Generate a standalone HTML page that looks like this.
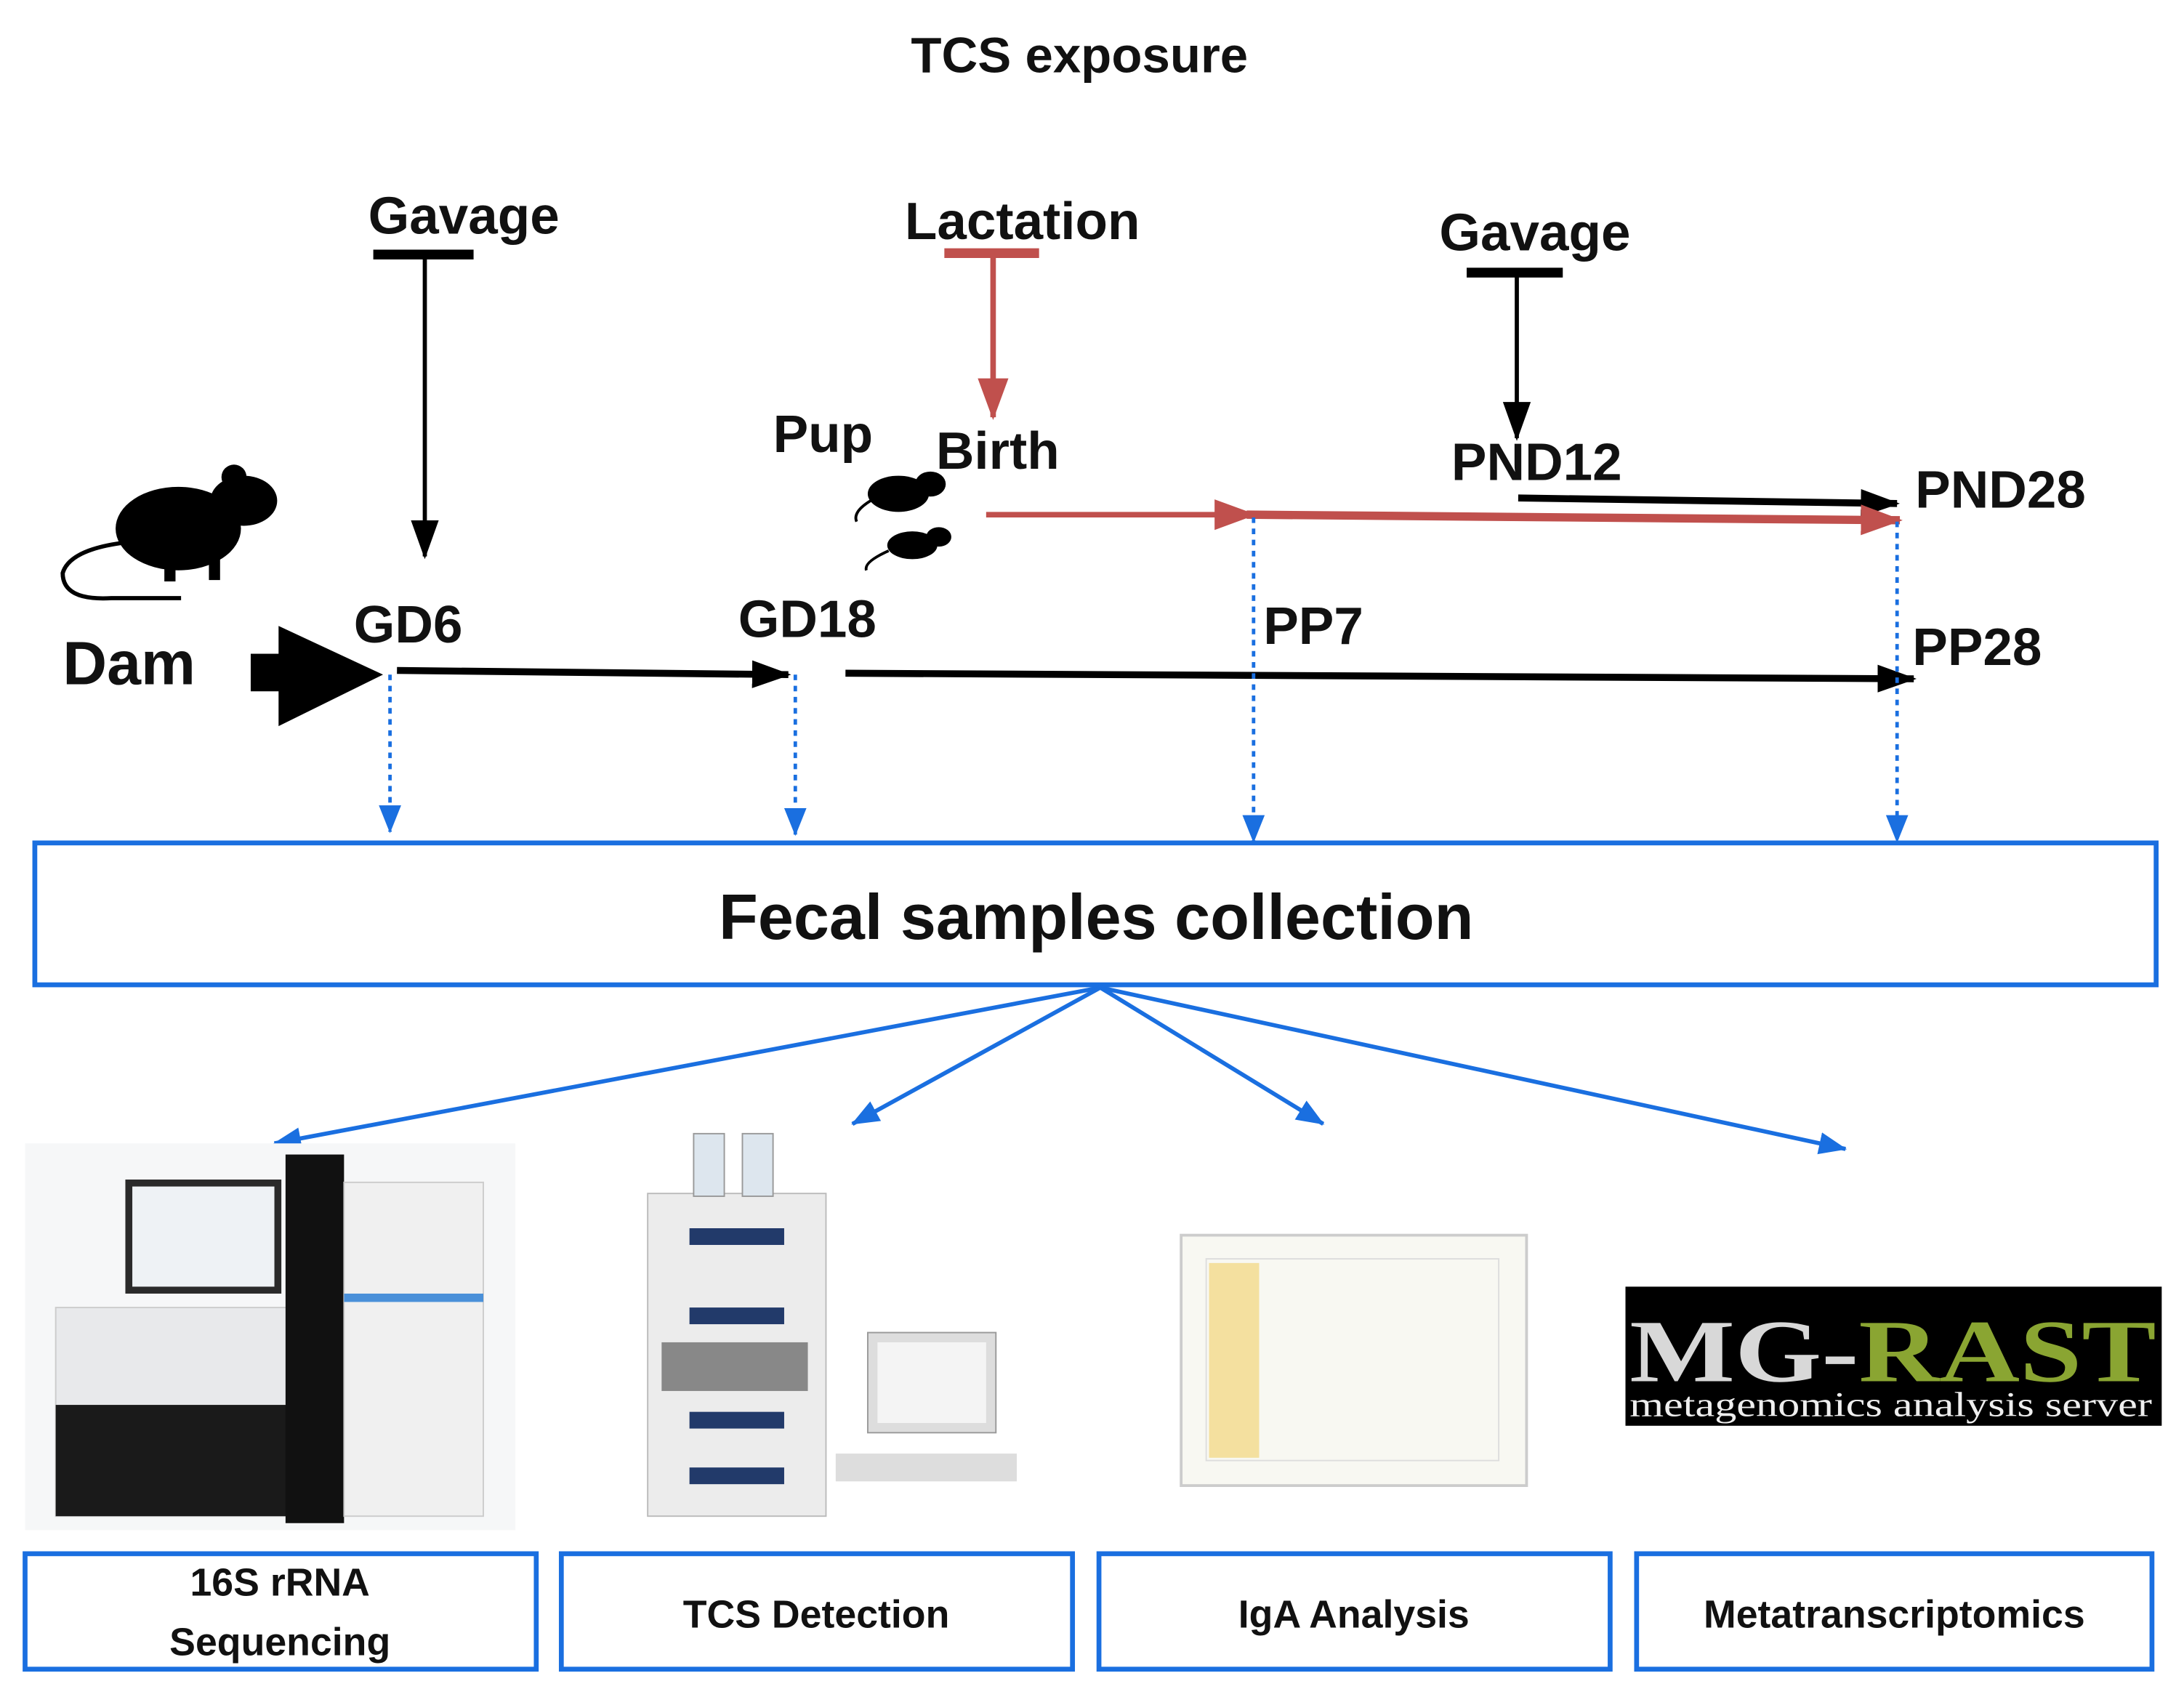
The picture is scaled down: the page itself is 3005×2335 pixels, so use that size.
<!DOCTYPE html>
<html><head><meta charset="utf-8"><style>
html,body{margin:0;padding:0;background:#fff;}
svg{display:block;}
text{font-family:"Liberation Sans","DejaVu Sans",sans-serif;font-weight:bold;}
</style></head><body>
<svg width="3005" height="2335" viewBox="0 0 1568 1220" preserveAspectRatio="none" xmlns="http://www.w3.org/2000/svg">
<defs>
<marker id="ab" markerWidth="30" markerHeight="24" refX="26" refY="12" orient="auto" markerUnits="userSpaceOnUse"><path d="M0,2 L28,12 L0,22 z" fill="#000"/></marker>
<marker id="ar" markerWidth="32" markerHeight="26" refX="28" refY="13" orient="auto" markerUnits="userSpaceOnUse"><path d="M0,2 L30,13 L0,24 z" fill="#c0504d"/></marker>
<marker id="au" markerWidth="22" markerHeight="18" refX="19" refY="9" orient="auto" markerUnits="userSpaceOnUse"><path d="M0,1 L20,9 L0,17 z" fill="#1a6fe0"/></marker>
</defs>
<rect width="1568" height="1220" fill="#fff"/>
<g style="fill:#111">
<text x="775" y="52" font-size="36" text-anchor="middle">TCS exposure</text>
<text x="333" y="168" font-size="38" text-anchor="middle">Gavage</text>
<text x="734" y="172" font-size="38" text-anchor="middle">Lactation</text>
<text x="1102" y="180" font-size="38" text-anchor="middle">Gavage</text>
<text x="555" y="325" font-size="38">Pup</text>
<text x="672" y="337" font-size="38">Birth</text>
<text x="1042" y="345" font-size="38">PND12</text>
<text x="1375" y="365" font-size="38">PND28</text>
<text x="45" y="492" font-size="44">Dam</text>
<text x="254" y="462" font-size="38">GD6</text>
<text x="530" y="458" font-size="38">GD18</text>
<text x="907" y="463" font-size="38">PP7</text>
<text x="1373" y="478" font-size="38">PP28</text>
<text x="787" y="675" font-size="46" text-anchor="middle">Fecal samples collection</text>
</g>

<line x1="268" y1="183" x2="340" y2="183" stroke="#000" stroke-width="7"/>
<line x1="305" y1="183" x2="305" y2="400" stroke="#000" stroke-width="3" marker-end="url(#ab)"/>
<line x1="678" y1="182" x2="746" y2="182" stroke="#c0504d" stroke-width="7"/>
<line x1="713" y1="182" x2="713" y2="300" stroke="#c0504d" stroke-width="4" marker-end="url(#ar)"/>
<line x1="1053" y1="196" x2="1122" y2="196" stroke="#000" stroke-width="7"/>
<line x1="1089" y1="196" x2="1089" y2="315" stroke="#000" stroke-width="3" marker-end="url(#ab)"/>

<line x1="1090" y1="358" x2="1362" y2="362" stroke="#000" stroke-width="5" marker-end="url(#ab)"/>
<line x1="708" y1="370" x2="900" y2="370" stroke="#c0504d" stroke-width="4" marker-end="url(#ar)"/>
<line x1="895" y1="370" x2="1364" y2="374" stroke="#c0504d" stroke-width="6" marker-end="url(#ar)"/>

<g fill="#000">
<ellipse cx="128" cy="380" rx="45" ry="30"/>
<ellipse cx="175" cy="360" rx="24" ry="18"/>
<circle cx="168" cy="343" r="9"/>
<path d="M90 390 Q50 395 45 412 Q45 432 80 430 L130 430" fill="none" stroke="#000" stroke-width="3"/>
<rect x="118" y="400" width="8" height="18"/><rect x="150" y="395" width="8" height="22"/>
<ellipse cx="645" cy="355" rx="22" ry="13"/><ellipse cx="668" cy="348" rx="11" ry="9"/>
<path d="M625 360 Q612 368 615 375" fill="none" stroke="#000" stroke-width="2"/>
<ellipse cx="655" cy="392" rx="18" ry="10"/><ellipse cx="674" cy="386" rx="9" ry="7"/>
<path d="M638 396 Q620 404 622 410" fill="none" stroke="#000" stroke-width="2"/>
</g>

<rect x="180" y="470" width="25" height="27" fill="#000"/>
<path d="M200 450 L275 485 L200 522 z" fill="#000"/>

<line x1="285" y1="482" x2="566" y2="485" stroke="#000" stroke-width="5" marker-end="url(#ab)"/>
<line x1="607" y1="484" x2="1374" y2="488" stroke="#000" stroke-width="5" marker-end="url(#ab)"/>

<g stroke="#1a6fe0" stroke-width="2.5" stroke-dasharray="4,4" fill="none">
<line x1="280" y1="485" x2="280" y2="598" marker-end="url(#au)"/>
<line x1="571" y1="485" x2="571" y2="600" marker-end="url(#au)"/>
<line x1="900" y1="372" x2="900" y2="605" marker-end="url(#au)"/>
<line x1="1362" y1="375" x2="1362" y2="605" marker-end="url(#au)"/>
</g>

<rect x="25" y="606" width="1523" height="102" fill="none" stroke="#1a6fe0" stroke-width="3.5"/>

<g stroke="#1a6fe0" stroke-width="3" fill="none">
<line x1="790" y1="710" x2="197" y2="822" marker-end="url(#au)"/>
<line x1="790" y1="710" x2="612" y2="808" marker-end="url(#au)"/>
<line x1="790" y1="710" x2="950" y2="808" marker-end="url(#au)"/>
<line x1="790" y1="710" x2="1325" y2="826" marker-end="url(#au)"/>
</g>

<rect x="18" y="822" width="352" height="278" fill="#f6f7f8"/>
<rect x="40" y="940" width="170" height="150" fill="#e8e9eb" stroke="#ccc"/>
<rect x="40" y="1010" width="170" height="80" fill="#1a1a1a"/>
<rect x="90" y="848" width="112" height="82" fill="#2a2a2a"/>
<rect x="95" y="853" width="102" height="72" fill="#eef2f5"/>
<rect x="205" y="830" width="42" height="265" fill="#111"/>
<rect x="247" y="850" width="100" height="240" fill="#f0f0f0" stroke="#ccc"/>
<rect x="247" y="930" width="100" height="6" fill="#4a90d9"/>
<rect x="465" y="858" width="128" height="232" fill="#ececec" stroke="#bbb"/>
<rect x="498" y="815" width="22" height="45" fill="#dde6ee" stroke="#999"/>
<rect x="533" y="815" width="22" height="45" fill="#dde6ee" stroke="#999"/>
<rect x="495" y="883" width="68" height="12" fill="#223a6a"/>
<rect x="495" y="940" width="68" height="12" fill="#223a6a"/>
<rect x="475" y="965" width="105" height="35" fill="#888"/>
<rect x="495" y="1015" width="68" height="12" fill="#223a6a"/>
<rect x="495" y="1055" width="68" height="12" fill="#223a6a"/>
<rect x="623" y="958" width="92" height="72" fill="#ddd" stroke="#999"/>
<rect x="630" y="965" width="78" height="58" fill="#f4f4f4"/>
<rect x="600" y="1045" width="130" height="20" fill="#ddd"/>
<rect x="848" y="888" width="248" height="180" fill="#f8f8f2" stroke="#ccc" stroke-width="2"/>
<rect x="866" y="905" width="210" height="145" fill="none" stroke="#ddd"/>
<rect x="868" y="908" width="36" height="140" fill="#f2d98a" opacity="0.8"/>

<rect x="1167" y="925" width="385" height="100" fill="#000"/>
<text x="1170" y="993" font-size="64" textLength="378" lengthAdjust="spacingAndGlyphs" style="font-family:'Liberation Serif',serif;font-weight:bold;fill:#d8d8d8"><tspan style="fill:#d8d8d8">MG-</tspan><tspan style="fill:#8aa532">RAST</tspan></text>
<text x="1170" y="1018" font-size="25" textLength="375" lengthAdjust="spacingAndGlyphs" style="font-family:'Liberation Serif',serif;font-weight:normal;fill:#eee">metagenomics analysis server</text>

<g fill="none" stroke="#1a6fe0" stroke-width="3.5">
<rect x="18" y="1117" width="367" height="83"/>
<rect x="403" y="1117" width="367" height="83"/>
<rect x="789" y="1117" width="367" height="83"/>
<rect x="1175" y="1117" width="370" height="83"/>
</g>
<g font-size="28" text-anchor="middle" style="fill:#111">
<text x="201" y="1147">16S rRNA</text>
<text x="201" y="1190">Sequencing</text>
<text x="586" y="1170">TCS Detection</text>
<text x="972" y="1170">IgA Analysis</text>
<text x="1360" y="1170">Metatranscriptomics</text>
</g>
</svg>
</body></html>
